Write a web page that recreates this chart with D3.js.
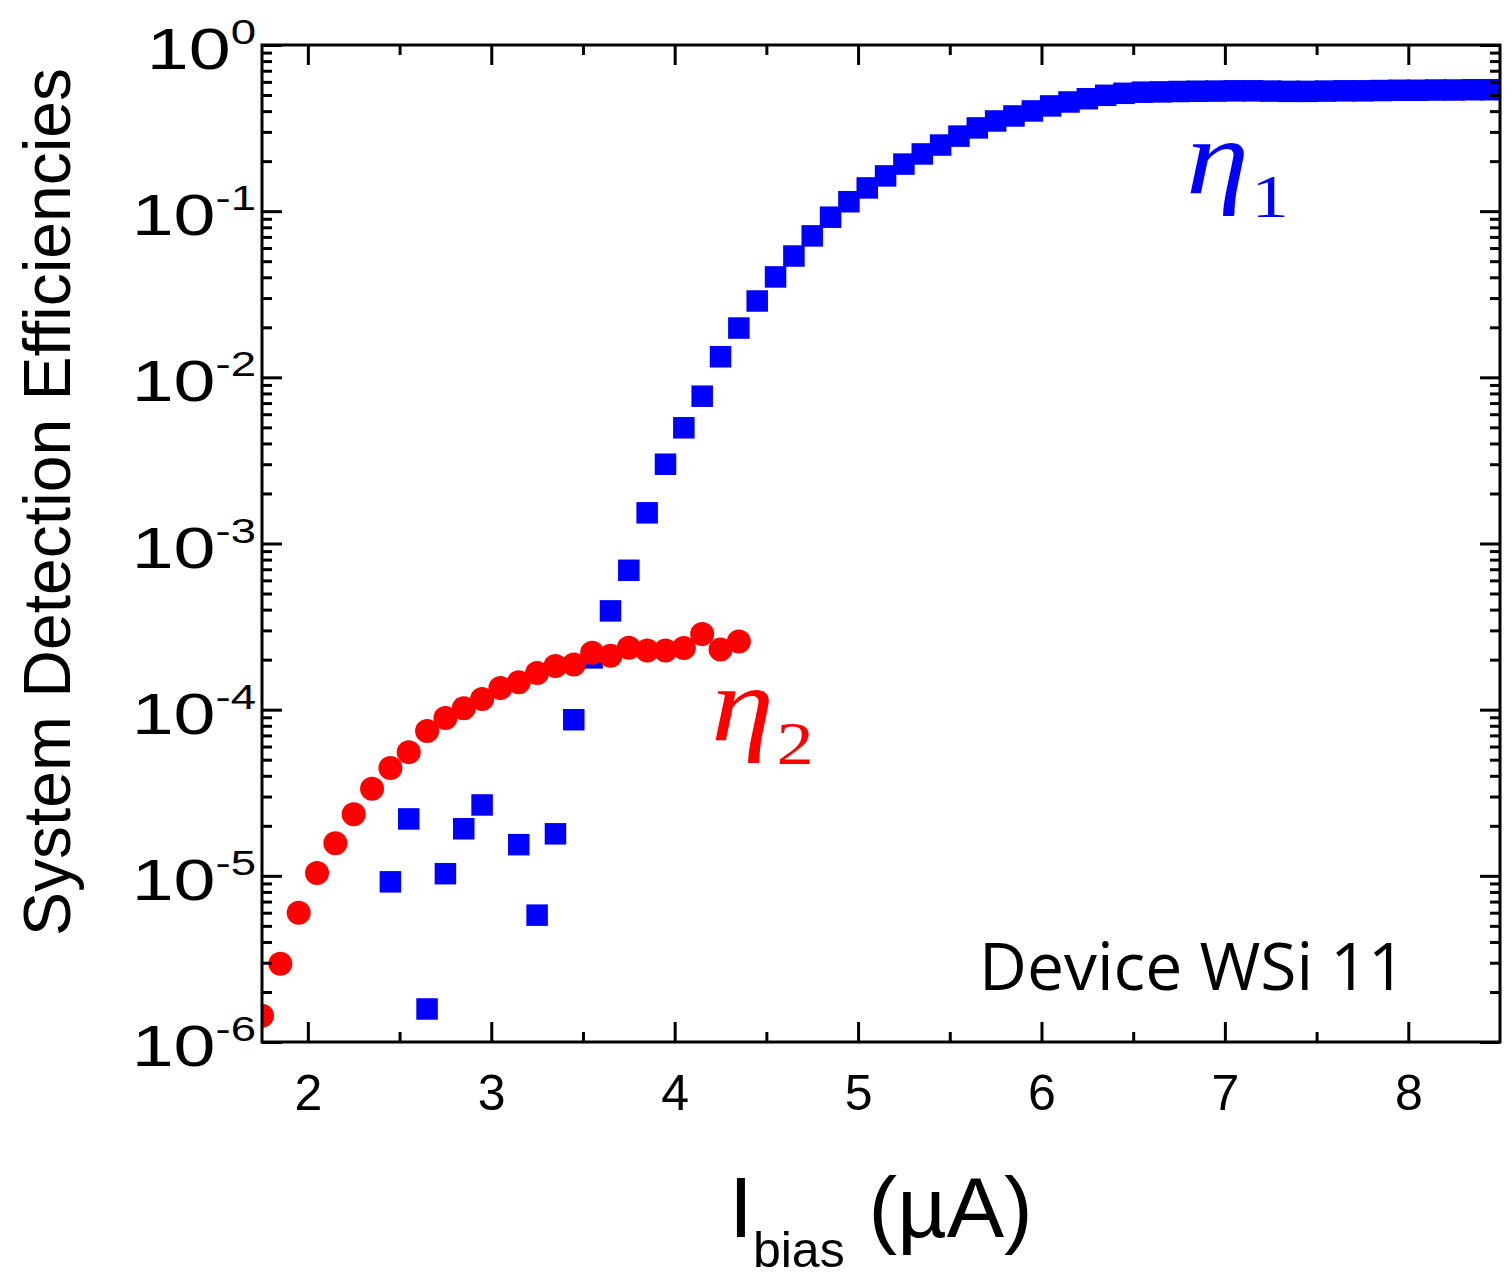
<!DOCTYPE html>
<html>
<head>
    <title>System Detection Efficiencies - Device WSi 11</title>
    <script src="https://d3js.org/d3.v7.min.js"></script>
  <style>
        body {
            margin: 0;
            background: #fff;
        }
        .tick text {
            font-family: "Liberation Sans", Arial, sans-serif;
        }
  </style>
</head>
<body>
    <div id="chart"></div>

  <script>
        // eta_1 (blue squares): bias current (uA) and efficiency
        const eta1X = [2.45, 2.55, 2.65, 2.75, 2.85, 2.95, 3.15, 3.25, 3.35, 3.45,
                       3.55, 3.65, 3.75, 3.85, 3.95, 4.05, 4.15, 4.25, 4.35, 4.45,
                       4.55, 4.65, 4.75, 4.85, 4.95, 5.05, 5.15, 5.25, 5.35, 5.45,
                       5.55, 5.65, 5.75, 5.85, 5.95, 6.05, 6.15, 6.25, 6.35, 6.45,
                       6.55, 6.65, 6.75, 6.85, 6.95, 7.05, 7.15, 7.25, 7.35, 7.45,
                       7.55, 7.65, 7.75, 7.85, 7.95, 8.05, 8.15, 8.25, 8.35, 8.45];
        const eta1Y = [9.2e-6, 2.2e-5, 1.58e-6, 1.03e-5, 1.92e-5, 2.67e-5, 1.54e-5, 5.8e-6, 1.79e-5, 8.7e-5,
                       2.05e-4, 3.93e-4, 6.9e-4, 1.53e-3, 3.0e-3, 4.97e-3, 7.7e-3, 1.33e-2, 1.98e-2, 2.88e-2,
                       4.02e-2, 5.37e-2, 7.1e-2, 9.2e-2, 0.114, 0.138, 0.163, 0.192, 0.221, 0.250,
                       0.283, 0.317, 0.349, 0.374, 0.401, 0.430, 0.454, 0.475, 0.498, 0.512,
                       0.520, 0.522, 0.525, 0.527, 0.528, 0.530, 0.530, 0.528, 0.526, 0.526,
                       0.528, 0.530, 0.530, 0.532, 0.534, 0.534, 0.536, 0.536, 0.538, 0.538];

        // eta_2 (red circles)
        const eta2X = [1.75, 1.85, 1.95, 2.05, 2.15, 2.25, 2.35, 2.45, 2.55, 2.65,
                       2.75, 2.85, 2.95, 3.05, 3.15, 3.25, 3.35, 3.45, 3.55, 3.65,
                       3.75, 3.85, 3.95, 4.05, 4.15, 4.25, 4.35];
        const eta2Y = [1.44e-6, 2.96e-6, 6.0e-6, 1.04e-5, 1.57e-5, 2.35e-5, 3.34e-5, 4.45e-5, 5.55e-5, 7.43e-5,
                       8.9e-5, 1.02e-4, 1.16e-4, 1.35e-4, 1.46e-4, 1.66e-4, 1.83e-4, 1.87e-4, 2.2e-4, 2.11e-4,
                       2.36e-4, 2.27e-4, 2.27e-4, 2.35e-4, 2.85e-4, 2.3e-4, 2.57e-4];

        // Axis ticks
        const xMajorTicks = [2, 3, 4, 5, 6, 7, 8];
        const xMinorTicks = [2.5, 3.5, 4.5, 5.5, 6.5, 7.5];
        const yExponents = [0, -1, -2, -3, -4, -5, -6];

        const width = 1512;
        const height = 1282;
        const plot = { left: 262, right: 1500, top: 45, bottom: 1042 };

        const svg = d3.select("#chart")
            .append("svg")
            .attr("width", width)
            .attr("height", height);

        const x = d3.scaleLinear()
            .domain([1.75, 8.5])
            .range([plot.left, plot.right]);

        const y = d3.scaleLog()
            .domain([1e-6, 1])
            .range([plot.bottom, plot.top]);

        const yMajor = yExponents.map(e => Math.pow(10, e));
        const yMinor = [];
        yExponents.slice(1).forEach(e => {
            for (let m = 2; m <= 9; m++) yMinor.push(m * Math.pow(10, e));
        });

        // clip so edge markers are cut by the frame
        svg.append("defs").append("clipPath")
            .attr("id", "plot-clip")
            .append("rect")
            .attr("x", plot.left)
            .attr("y", plot.top)
            .attr("width", plot.right - plot.left)
            .attr("height", plot.bottom - plot.top);

        const marks = svg.append("g").attr("clip-path", "url(#plot-clip)");

        // blue squares
        const sq = 21.5;
        marks.selectAll("rect.eta1")
            .data(eta1X.map((v, i) => [v, eta1Y[i]]))
            .enter()
            .append("rect")
            .attr("class", "eta1")
            .attr("x", d => x(d[0]) - sq / 2)
            .attr("y", d => y(d[1]) - sq / 2)
            .attr("width", sq)
            .attr("height", sq)
            .attr("fill", "#0000ff");

        // red circles
        marks.selectAll("circle.eta2")
            .data(eta2X.map((v, i) => [v, eta2Y[i]]))
            .enter()
            .append("circle")
            .attr("class", "eta2")
            .attr("cx", d => x(d[0]))
            .attr("cy", d => y(d[1]))
            .attr("r", 12)
            .attr("fill", "#ff0000");

        // ticks, all pointing inward
        function styleAxis(g) {
            g.select(".domain").remove();
            g.selectAll(".tick line").attr("stroke", "#000").attr("stroke-width", 3);
        }

        svg.append("g")
            .attr("transform", `translate(0,${plot.bottom})`)
            .call(d3.axisBottom(x).tickValues(xMajorTicks).tickSize(-20).tickSizeOuter(0).tickPadding(32).tickFormat(d3.format("d")))
            .call(styleAxis)
            .call(g => g.selectAll(".tick text").attr("font-size", 50).attr("fill", "#000"));
        svg.append("g")
            .attr("transform", `translate(0,${plot.bottom})`)
            .call(d3.axisBottom(x).tickValues(xMinorTicks).tickSize(-10).tickSizeOuter(0).tickFormat(""))
            .call(styleAxis);
        svg.append("g")
            .attr("transform", `translate(0,${plot.top})`)
            .call(d3.axisTop(x).tickValues(xMajorTicks).tickSize(-20).tickSizeOuter(0).tickFormat(""))
            .call(styleAxis);
        svg.append("g")
            .attr("transform", `translate(0,${plot.top})`)
            .call(d3.axisTop(x).tickValues(xMinorTicks).tickSize(-10).tickSizeOuter(0).tickFormat(""))
            .call(styleAxis);

        svg.append("g")
            .attr("transform", `translate(${plot.left},0)`)
            .call(d3.axisLeft(y).tickValues(yMajor).tickSize(-20).tickSizeOuter(0).tickFormat(""))
            .call(styleAxis);
        svg.append("g")
            .attr("transform", `translate(${plot.left},0)`)
            .call(d3.axisLeft(y).tickValues(yMinor).tickSize(-10).tickSizeOuter(0).tickFormat(""))
            .call(styleAxis);
        svg.append("g")
            .attr("transform", `translate(${plot.right},0)`)
            .call(d3.axisRight(y).tickValues(yMajor).tickSize(-20).tickSizeOuter(0).tickFormat(""))
            .call(styleAxis);
        svg.append("g")
            .attr("transform", `translate(${plot.right},0)`)
            .call(d3.axisRight(y).tickValues(yMinor).tickSize(-10).tickSizeOuter(0).tickFormat(""))
            .call(styleAxis);

        // y tick labels as 10^n (glyphs are drawn a bit wide in the original)
        const yLabels = svg.append("g")
            .attr("font-family", "Liberation Sans, Arial, sans-serif")
            .attr("text-anchor", "end");
        yExponents.forEach(e => {
            const t = yLabels.append("text")
                .attr("transform", `translate(256,${y(Math.pow(10, e)) + 24}) scale(1.3,1)`);
            t.append("tspan").attr("font-size", 58).text("10");
            t.append("tspan").attr("font-size", 35).attr("dy", -25).text(e);
        });

        // frame
        svg.append("rect")
            .attr("x", plot.left)
            .attr("y", plot.top)
            .attr("width", plot.right - plot.left)
            .attr("height", plot.bottom - plot.top)
            .attr("fill", "none")
            .attr("stroke", "#000")
            .attr("stroke-width", 3);

        // axis titles
        svg.append("text")
            .attr("transform", `translate(70,502) rotate(-90)`)
            .attr("text-anchor", "middle")
            .attr("font-family", "Liberation Sans, Arial, sans-serif")
            .attr("font-size", 66)
            .text("System Detection Efficiencies");

        const xTitle = svg.append("text")
            .attr("x", 729)
            .attr("y", 1237)
            .attr("font-family", "Liberation Sans, Arial, sans-serif");
        xTitle.append("tspan").attr("font-size", 86).text("I");
        xTitle.append("tspan").attr("font-size", 50).attr("dy", 30).text("bias");
        xTitle.append("tspan").attr("font-size", 86).attr("dy", -30).text(" (\u00b5A)");

        // series labels
        function etaLabel(px, py, sub, color) {
            const t = svg.append("text")
                .attr("transform", `translate(${px},${py}) scale(1.2,1)`)
                .attr("fill", color)
                .attr("font-family", "Liberation Serif, Times New Roman, serif");
            t.append("tspan").attr("font-size", 106).attr("font-style", "italic").text("\u03b7");
            t.append("tspan").attr("font-size", 62).attr("dx", 2).attr("dy", 24).text(sub);
        }
        etaLabel(1186, 193, "1", "#0000ff");
        etaLabel(711, 740, "2", "#ff0000");

        svg.append("text")
            .attr("x", 979)
            .attr("y", 990)
            .attr("font-family", "Open Sans, sans-serif")
            .attr("font-size", 66)
            .text("Device WSi 11");
  </script>
</body>
</html>
